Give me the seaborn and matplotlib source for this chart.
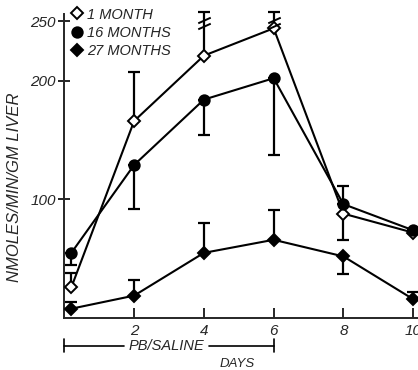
import matplotlib
matplotlib.use("Agg")
import matplotlib.pyplot as plt
import seaborn as sns
import pandas as pd

# days after start (first point sits a little right of the axis in the original)
days = [0.2, 2, 4, 6, 8, 10]

month1 = [26, 166, 221, 244, 88, 72]
month16 = [55, 129, 184, 202, 96, 74]
month27 = [8, 19, 55, 66, 52, 16]

# one-sided error bars (lower, upper)
month1_lo = [0, 0, 0, 0, 22, 0]
month1_hi = [12, 41, 37, 14, 0, 0]
month16_lo = [10, 37, 30, 65, 0, 0]
month16_hi = [0, 0, 0, 0, 15, 0]
month27_lo = [0, 0, 0, 0, 15, 0]
month27_hi = [6, 13, 25, 25, 0, 6]

groups = ["1 MONTH", "16 MONTHS", "27 MONTHS"]

sns.set_style("ticks")
plt.rcParams["font.family"] = ["Liberation Sans", "DejaVu Sans"]

df = pd.DataFrame({
    "day": days * 3,
    "value": month1 + month16 + month27,
    "group": [g for g in groups for _ in days],
})

fig = plt.figure(figsize=(4.18, 3.70), dpi=100)
ax = fig.add_axes([0.154, 0.140, 0.847, 0.822])

styles = {
    "1 MONTH": dict(marker="D", mfc="white", ms=6),
    "16 MONTHS": dict(marker="o", mfc="black", ms=7.5),
    "27 MONTHS": dict(marker="D", mfc="black", ms=6.5),
}
errs = {
    "1 MONTH": (month1_lo, month1_hi),
    "16 MONTHS": (month16_lo, month16_hi),
    "27 MONTHS": (month27_lo, month27_hi),
}

for g in groups:
    sub = df[df["group"] == g]
    lo, hi = errs[g]
    ax.errorbar(sub["day"], sub["value"], yerr=[lo, hi], fmt="none",
                ecolor="black", elinewidth=1.6, capsize=4, capthick=1.6,
                clip_on=False, zorder=2)

for g in groups:
    sub = df[df["group"] == g]
    st = styles[g]
    sns.lineplot(data=sub, x="day", y="value", ax=ax, color="black",
                 linewidth=1.5, marker=st["marker"], markersize=st["ms"],
                 markerfacecolor=st["mfc"], markeredgecolor="black",
                 markeredgewidth=1.4, label=g, zorder=3, clip_on=False)

# axis break marks on the off-scale bars
slash = [(-1, -0.45), (1, 0.45)]
for d in [4, 6]:
    ax.plot([d, d], [246, 251], linestyle="none", marker=slash, markersize=9,
            markeredgewidth=1.4, color="black", clip_on=False, zorder=4)

ax.set_xlim(0, 10.15)
ax.set_ylim(0, 256)
ax.set_xticks([2, 4, 6, 8, 10])
ax.set_yticks([100, 200, 250])
ax.tick_params(axis="x", direction="in", length=7, width=1.4, labelsize=11, pad=4)
ax.tick_params(axis="y", direction="inout", length=8, width=1.4, labelsize=11, pad=2)
for lab in ax.get_xticklabels() + ax.get_yticklabels():
    lab.set_fontstyle("italic")
sns.despine(ax=ax)
ax.spines["left"].set_linewidth(1.4)
ax.spines["bottom"].set_linewidth(1.4)

ax.set_xlabel("")
ax.set_ylabel("NMOLES/MIN/GM LIVER", fontsize=12, fontstyle="italic")
ax.yaxis.set_label_coords(-0.12, 0.43)

leg = ax.legend(loc="upper left", bbox_to_anchor=(0.0, 1.05), frameon=False,
                handlelength=0.6, handletextpad=0.35, labelspacing=0.3,
                fontsize=10.5, borderaxespad=0.2)
for t in leg.get_texts():
    t.set_fontstyle("italic")
for h in leg.legend_handles:
    h.set_linestyle("none")

# PB/SALINE bracket under the axis
xt = ax.get_xaxis_transform()
yb = -0.09
ax.plot([0, 1.7], [yb, yb], color="black", lw=1.2, transform=xt, clip_on=False)
ax.plot([4.15, 6], [yb, yb], color="black", lw=1.2, transform=xt, clip_on=False)
ax.plot([0, 0], [yb - 0.02, yb + 0.02], color="black", lw=1.2, transform=xt, clip_on=False)
ax.plot([6, 6], [yb - 0.02, yb + 0.02], color="black", lw=1.2, transform=xt, clip_on=False)
ax.text(2.92, yb, "PB/SALINE", transform=xt, ha="center", va="center",
        fontsize=10.5, fontstyle="italic")
ax.text(4.95, -0.15, "DAYS", transform=xt, ha="center", va="center",
        fontsize=9.5, fontstyle="italic")

fig.savefig("out.png", dpi=100)
